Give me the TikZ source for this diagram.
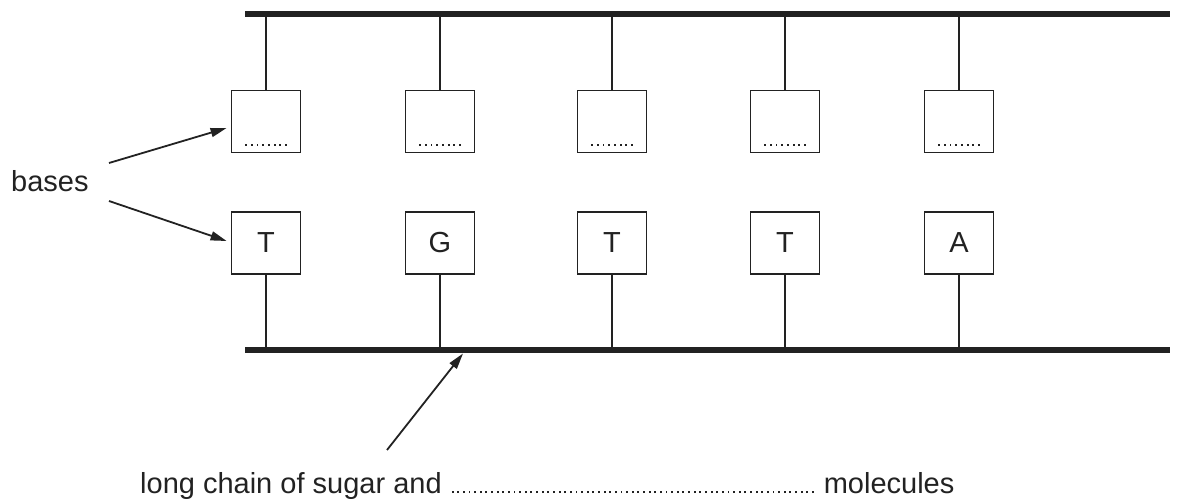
\documentclass[tikz,border=0pt]{standalone}
\usepackage{fontspec}
\setmainfont{Liberation Sans}
\usetikzlibrary{arrows.meta,calc}

% a row of small square dots of the given width, one dot every #2
\newcommand\dotrow[2]{\hbox to #1{\xleaders\hbox to #2{\hss\rule{1.9pt}{1.9pt}\hss}\hfill}}

\definecolor{ink}{HTML}{222222}

\begin{document}
\begin{tikzpicture}[x=1pt,y=-1pt,
  every node/.style={font=\fontsize{29}{34}\selectfont, text=ink},
  strand/.style={draw=ink, line width=5.5pt, line cap=butt},
  stem/.style={draw=ink, line width=1.8pt},
  basebox/.style={draw=ink, line width=1.8pt, minimum width=69pt, minimum height=62pt, inner sep=0pt},
  pointer/.style={draw=ink, line width=1.8pt, -{Triangle[length=16pt,width=9pt]}},
  blank/.style={inner sep=0pt, font=\fontsize{10}{10}\selectfont}
]
\useasboundingbox (0,0) rectangle (1178,500);

% the two sugar-phosphate strands
\coordinate (tl) at (245,14);
\coordinate (tr) at (1170,14);
\coordinate (bl) at (245,350);
\coordinate (br) at (1170,350);
\draw[strand] (tl) -- (tr);
\draw[strand] (bl) -- (br);

% unknown bases on the upper strand, known bases on the lower strand
\foreach \i/\x/\b in {1/266/T, 2/440/G, 3/612/T, 4/785/T, 5/959/A} {
  \node[basebox] (u\i) at (\x,121.5) {};
  \node[blank] (d\i) at (\x,145) {\dotrow{45.6pt}{5.7pt}};
  \node[basebox] (l\i) at (\x,243) {\b};
  \draw[stem] (u\i.north) -- (u\i.north |- tl);
  \draw[stem] (l\i.south) -- (l\i.south |- bl);
}

% labels
\node[anchor=base west, inner sep=0pt] (bases) at (11,191) {bases};
\coordinate (bt1) at (109,163);
\coordinate (bt2) at (109,201);
\draw[pointer] (bt1) -- ($(u1.west)+(-4,6.5)$);
\draw[pointer] (bt2) -- ($(l1.west)+(-4,-2)$);

\node[anchor=base west, inner sep=0pt] (chain) at (140,493)
  {long chain of sugar and \dotrow{366pt}{5.55pt} molecules};
\coordinate (ctail) at (387,450);
\coordinate (ctip) at (463,353.5);
\draw[pointer] (ctail) -- (ctip);
\end{tikzpicture}
\end{document}
